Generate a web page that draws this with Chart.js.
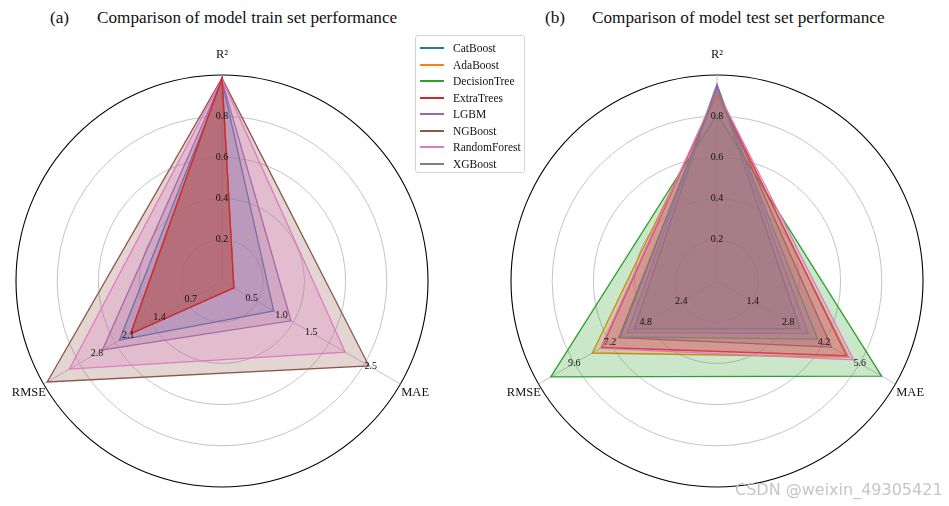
<!DOCTYPE html>
<html><head><meta charset="utf-8">
<script src="https://cdn.jsdelivr.net/npm/chart.js@4.4.1/dist/chart.umd.min.js"></script>
<style>
html,body{margin:0;padding:0;background:#fff;}
#wrap{position:relative;width:949px;height:506px;overflow:hidden;font-family:"Liberation Serif","Times New Roman",serif;color:#111;}
canvas{position:absolute;top:0;}
.title{position:absolute;top:8px;font-size:17.2px;white-space:nowrap;line-height:20px;}
#legend{position:absolute;left:415px;top:35px;width:110px;height:138px;border:1px solid #d4d4d4;border-radius:3px;background:rgba(255,255,255,0.85);z-index:5;box-sizing:border-box;}
.item{position:absolute;left:0;width:108px;height:16px;font-size:11.5px;line-height:16px;}
.item .ln{position:absolute;left:4px;top:7px;width:24px;height:2px;display:block;}
.item .tx{position:absolute;left:37px;top:0;white-space:nowrap;}
#wm{position:absolute;left:735px;top:480px;font-family:"DejaVu Sans",sans-serif;font-size:16px;color:rgba(195,195,195,0.95);white-space:nowrap;z-index:6;}
</style></head>
<body><div id="wrap">
<div class="title" style="left:50px">(a)</div>
<div class="title" style="left:97px">Comparison of model train set performance</div>
<div class="title" style="left:545px">(b)</div>
<div class="title" style="left:592px">Comparison of model test set performance</div>
<canvas id="ca" width="475" height="506" style="left:0px"></canvas>
<canvas id="cb" width="474" height="506" style="left:475px"></canvas>
<div id="legend"></div>
<div id="wm">CSDN @weixin_49305421</div>
</div>
<script>
// axes (categories)
const categories = ['R²', 'MAE', 'RMSE'];
const models = ['CatBoost','AdaBoost','DecisionTree','ExtraTrees','LGBM','NGBoost','RandomForest','XGBoost'];
const colors = ['#1f77b4','#ff7f0e','#2ca02c','#d62728','#9467bd','#8c564b','#e377c2','#7f7f7f'];

// train set values [R², MAE, RMSE]
const trainCatBoost     = [0.97, 0.87, 2.30];
const trainAdaBoost     = [0.985, 0.20, 2.05];
const trainDecisionTree = [0.985, 0.20, 2.05];
const trainExtraTrees   = [0.985, 0.20, 2.05];
const trainLGBM         = [0.975, 1.16, 2.68];
const trainNGBoost      = [0.985, 2.47, 3.92];
const trainRandomForest = [0.98, 2.07, 3.42];
const trainXGBoost      = [0.985, 0.20, 2.05];

// test set values [R², MAE, RMSE]
const testCatBoost     = [0.95, 3.26, 5.57];
const testAdaBoost     = [0.90, 5.17, 8.39];
const testDecisionTree = [0.81, 6.46, 11.18];
const testExtraTrees   = [0.92, 5.08, 7.75];
const testLGBM         = [0.955, 3.58, 6.02];
const testNGBoost      = [0.93, 4.49, 6.60];
const testRandomForest = [0.925, 5.36, 7.85];
const testXGBoost      = [0.935, 3.95, 6.50];

// per-axis scale maxima
const trainAxisMax = [1.0, 3.0, 4.0];
const testAxisMax  = [1.0, 7.0, 12.0];

// tick labels per axis
const trainTicksR2 = [0.2, 0.4, 0.6, 0.8];
const trainTicksMAE = [0.5, 1.0, 1.5, 2.5];
const trainTicksRMSE = [0.7, 1.4, 2.1, 2.8];
const testTicksR2 = [0.2, 0.4, 0.6, 0.8];
const testTicksMAE = [1.4, 2.8, 4.2, 5.6];
const testTicksRMSE = [2.4, 4.8, 7.2, 9.6];

// stacking (0 = drawn on top)
const trainOrder = [7, 6, 5, 0, 3, 2, 1, 4];
const testOrder  = [7, 6, 5, 4, 3, 2, 1, 0];

const trainSeries = [trainCatBoost, trainAdaBoost, trainDecisionTree, trainExtraTrees, trainLGBM, trainNGBoost, trainRandomForest, trainXGBoost];
const testSeries = [testCatBoost, testAdaBoost, testDecisionTree, testExtraTrees, testLGBM, testNGBoost, testRandomForest, testXGBoost];

function hexA(h, a){
  const r = parseInt(h.slice(1,3),16), g = parseInt(h.slice(3,5),16), b = parseInt(h.slice(5,7),16);
  return `rgba(${r},${g},${b},${a})`;
}

function overlay(maxes, ticks){
  return {
    id: 'overlay',
    afterDatasetsDraw(chart){
      const s = chart.scales.r, ctx = chart.ctx;
      ctx.save();
      ctx.fillStyle = '#111';
      ctx.textAlign = 'center';
      ctx.textBaseline = 'middle';
      ctx.font = '10px "Liberation Serif"';
      ticks.forEach((arr, i) => arr.forEach(v => {
        const p = s.getPointPositionForValue(i, v / maxes[i]);
        ctx.fillText(v.toFixed(1), p.x, p.y);
      }));
      ctx.font = '12.5px "Liberation Serif"';
      categories.forEach((c, i) => {
        const p = s.getPointPosition(i, s.drawingArea + (i === 0 ? 20 : 17));
        ctx.fillText(c, p.x, p.y);
      });
      ctx.restore();
    }
  };
}

function makeChart(id, series, maxes, ticks, order, padding){
  const datasets = series.map((vals, i) => ({
    label: models[i],
    data: vals.map((v, k) => v / maxes[k]),
    borderColor: colors[i],
    backgroundColor: hexA(colors[i], 0.25),
    borderWidth: 1.3,
    pointRadius: 0,
    fill: true,
    order: order[i]
  }));
  return new Chart(document.getElementById(id), {
    type: 'radar',
    data: { labels: categories, datasets },
    options: {
      responsive: false,
      animation: false,
      layout: { padding },
      plugins: { legend: { display: false }, tooltip: { enabled: false } },
      elements: { line: { tension: 0 } },
      scales: {
        r: {
          min: 0, max: 1,
          ticks: { display: false, stepSize: 0.2 },
          grid: {
            circular: true,
            color: ctx => (ctx.tick && ctx.tick.value > 0.99) ? '#000' : '#c4c4c4',
            lineWidth: ctx => (ctx.tick && ctx.tick.value > 0.99) ? 1.1 : 1
          },
          angleLines: { color: '#c4c4c4', lineWidth: 1 },
          pointLabels: { display: false }
        }
      }
    },
    plugins: [overlay(maxes, ticks)]
  });
}

makeChart('ca', trainSeries, trainAxisMax, [trainTicksR2, trainTicksMAE, trainTicksRMSE], trainOrder, {left:16, top:75, right:47, bottom:19});
makeChart('cb', testSeries, testAxisMax, [testTicksR2, testTicksMAE, testTicksRMSE], testOrder, {left:36, top:75, right:26, bottom:19});

// legend
const lg = document.getElementById('legend');
models.forEach((m, i) => {
  const d = document.createElement('div');
  d.className = 'item';
  d.style.top = Math.round(4 + i * 16.5) + 'px';
  const ln = document.createElement('span');
  ln.className = 'ln';
  ln.style.backgroundColor = colors[i];
  const tx = document.createElement('span');
  tx.className = 'tx';
  tx.textContent = m;
  d.appendChild(ln);
  d.appendChild(tx);
  lg.appendChild(d);
});
</script>
</body></html>
